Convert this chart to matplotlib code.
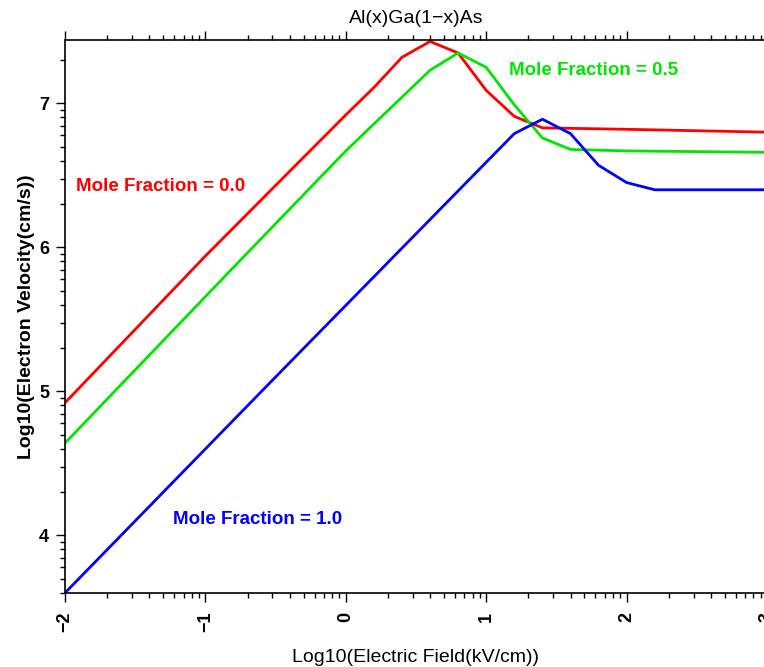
import numpy as np
import matplotlib.pyplot as plt
from matplotlib.ticker import FixedLocator

plt.rcParams['font.family'] = ['Liberation Sans', 'DejaVu Sans']

# log10(E) / log10(v)
x_red = [-2.0, -1.0, 0.0, 0.2, 0.4, 0.6, 0.8, 1.0, 1.2, 1.4, 2.0, 3.0]
y_red = [4.92, 5.94, 6.92, 7.11, 7.32, 7.43, 7.35, 7.09, 6.91, 6.83, 6.82, 6.80]

x_green = [-2.0, -0.88, 0.0, 0.6, 0.8, 1.0, 1.2, 1.4, 1.6, 2.0, 3.0]
y_green = [4.64, 5.78, 6.67, 7.23, 7.35, 7.25, 6.99, 6.76, 6.68, 6.67, 6.66]

x_blue = [-2.0, -0.52, 1.2, 1.4, 1.6, 1.8, 2.0, 2.2, 3.0]
y_blue = [3.60, 5.08, 6.79, 6.89, 6.79, 6.57, 6.45, 6.40, 6.40]

labels = ['Mole Fraction = 0.0', 'Mole Fraction = 0.5', 'Mole Fraction = 1.0']
colors = ['#ff0000', '#00e600', '#0000ff']

fig = plt.figure(figsize=(7.64, 6.67), dpi=100)
ax = fig.add_axes([0.085, 0.111, 0.919, 0.829])

ax.plot(x_red, y_red, color=colors[0], lw=2.0)
ax.plot(x_green, y_green, color=colors[1], lw=2.0)
ax.plot(x_blue, y_blue, color=colors[2], lw=2.0)

ax.text(-1.92, 6.42, labels[0], color=colors[0], fontsize=13.5, fontweight='bold', va='center')
ax.text(1.16, 7.23, labels[1], color=colors[1], fontsize=13.5, fontweight='bold', va='center')
ax.text(-1.23, 4.11, labels[2], color=colors[2], fontsize=13.5, fontweight='bold', va='center')

ax.set_xlim(-2, 3)
ax.set_ylim(3.6, 7.44)

# log style minor ticks inside each decade, on both axes
xminor = [d + np.log10(k) for d in range(-2, 3) for k in range(2, 10)]
yminor = [d + np.log10(k) for d in range(3, 8) for k in range(2, 10)]
ax.xaxis.set_major_locator(FixedLocator([-2, -1, 0, 1, 2, 3]))
ax.xaxis.set_minor_locator(FixedLocator(xminor))
ax.yaxis.set_major_locator(FixedLocator([4, 5, 6, 7]))
ax.yaxis.set_minor_locator(FixedLocator(yminor))

ax.tick_params(which='both', direction='out', top=True, right=False, width=1)
ax.tick_params(which='major', length=6.5)
ax.tick_params(which='minor', length=3.5)
ax.tick_params(axis='x', labelrotation=90, labelsize=13, pad=7)
ax.tick_params(axis='y', labelsize=13, pad=5)
for lab in ax.get_xticklabels() + ax.get_yticklabels():
    lab.set_fontweight('bold')

ax.spines['right'].set_visible(False)
for s in ['left', 'bottom', 'top']:
    ax.spines[s].set_linewidth(1.2)

ax.set_title('Al(x)Ga(1\u2212x)As', fontsize=14, pad=12)
ax.set_xlabel('Log10(Electric Field(kV/cm))', fontsize=14, labelpad=12)
ax.set_ylabel('Log10(Electron Velocity(cm/s))', fontsize=14, fontweight='bold', labelpad=3)

fig.savefig('out.png', dpi=100)
